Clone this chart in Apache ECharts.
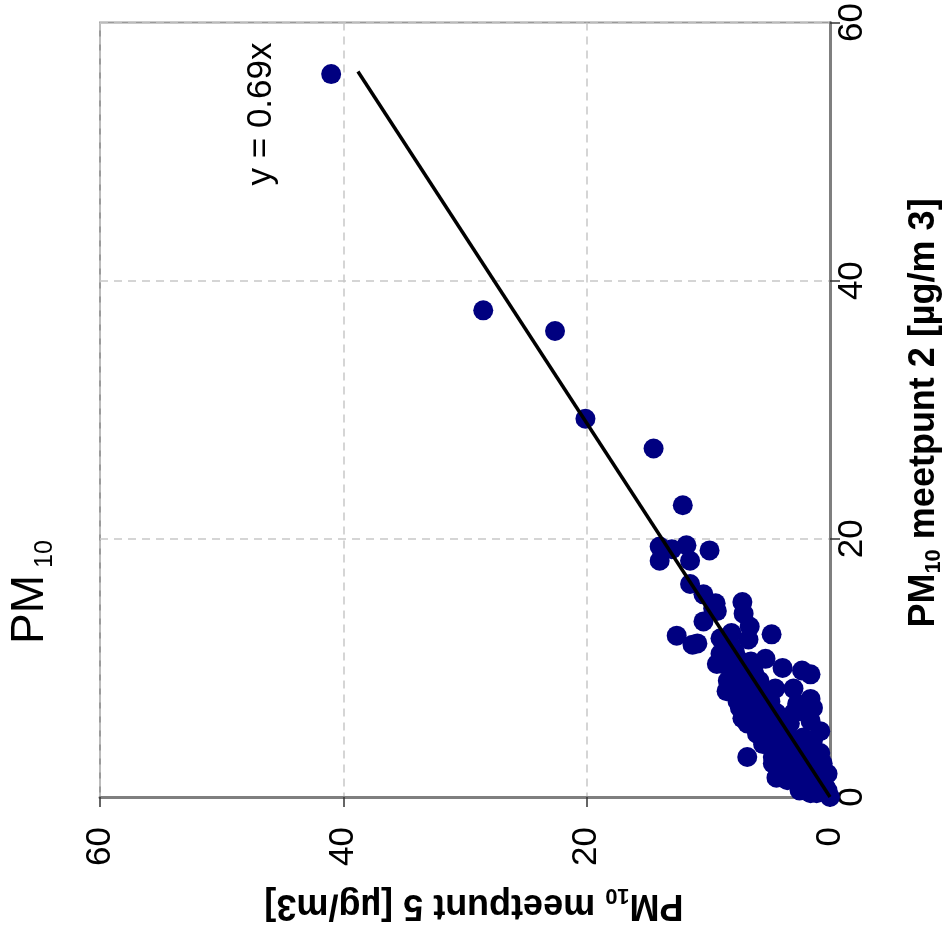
<!DOCTYPE html>
<html>
<head>
<meta charset="utf-8">
<script src="https://cdn.jsdelivr.net/npm/echarts@6/dist/echarts.min.js"></script>
<style>html,body{margin:0;padding:0;background:#fff;}#c{width:950px;height:935px;}</style>
</head>
<body>
<div id="c"></div>
<script>
// PM10 meetpunt 5 values (horizontal, inverted axis) and meetpunt 2 values (vertical, right axis)
const meetpunt5 = [41.0,28.5,22.6,20.1,14.5,12.1,14.0,14.0,13.0,11.8,11.5,9.9,11.5,10.4,9.4,9.3,7.2,7.1,6.6,12.6,11.3,10.4,9.6,4.8,6.7,8.1,9.0,10.9,8.8,8.4,5.3,3.9,2.3,1.6,3.0,1.6,4.5,6.3,7.0,4.9,8.5,9.0,9.3,7.6,7.4,6.8,6.0,5.5,4.7,4.1,3.3,2.5,6.8,7.1,6.8,5.8,4.9,4.4,3.5,2.5,1.6,0.8,1.6,1.4,2.7,3.9,3.0,4.1,2.5,1.6,0.8,0.0,0.6,5.2,4.4,3.3,2.5,3.3,4.7,3.5,4.3,3.0,1.9,1.4,6.3,7.2,4.7,3.0,2.5,1.4,0.2,1.1,1.9,0.2,0.6,0.8,5.0,5.5,6.0,6.2,5.8,4.0,6.8,7.5,7.8,8.2,6.5,5.6,2.0,2.8,3.6,4.2,5.0,5.3,6.0,6.5,7.0,7.2,7.5,1.0,1.8,2.2,3.8,4.6,5.5,6.2,7.8,8.0,8.5,3.0,1.2,0.4];
const meetpunt2 = [56.0,37.7,36.1,29.3,27.0,22.6,19.4,18.3,19.2,19.5,18.3,19.1,16.5,15.7,15.0,14.4,15.1,14.2,13.2,12.5,11.8,13.6,14.6,12.6,12.2,12.7,12.3,11.9,10.3,9.0,10.7,10.0,9.8,9.5,8.4,7.6,8.4,10.0,7.4,7.4,8.2,11.1,10.3,7.4,6.9,5.7,4.9,4.1,3.1,2.3,1.5,0.9,3.1,6.7,5.9,5.1,4.1,1.5,1.3,2.3,3.1,5.1,5.9,6.9,7.2,4.9,4.4,3.1,0.5,0.3,1.1,0.0,1.8,5.9,6.5,5.7,3.8,2.3,2.6,3.6,6.1,6.5,6.5,4.4,5.9,6.1,4.9,2.8,1.8,1.3,0.5,0.3,0.8,1.8,2.6,3.4,7.0,8.0,8.8,9.5,9.0,6.0,9.8,10.6,11.2,11.8,10.5,7.6,3.0,4.0,5.0,5.5,6.5,7.2,7.8,8.5,9.0,9.6,8.8,2.0,2.4,4.6,4.2,5.2,6.3,7.0,9.8,10.5,11.0,3.3,1.6,0.8];
// trend line y = 0.69x (meetpunt 5 = 0.69 * meetpunt 2)
const trendM2 = [0, 56.2];
const trendM5 = [0, 38.8];
const axisTicks = [0, 20, 40, 60];
const equationText = 'y = 0.69x';

const FF = '"Liberation Sans", Arial, sans-serif';
const points = meetpunt5.map((v, i) => [v, meetpunt2[i]]);
const trend = trendM5.map((v, i) => [v, trendM2[i]]);

const chart = echarts.init(document.getElementById('c'), null, {renderer: 'canvas'});
const axisCommon = {
  type: 'value', min: axisTicks[0], max: axisTicks[axisTicks.length - 1], interval: 20,
  axisLine: {show: true, onZero: false, lineStyle: {color: '#7f7f7f', width: 3}},
  axisTick: {show: true, length: 10, lineStyle: {color: '#333', width: 1.5}},
  splitLine: {show: true, lineStyle: {type: [8, 6], color: '#c8c8c8', width: 1.5}},
  axisLabel: {rotate: 90, fontSize: 35, color: '#000', fontFamily: FF, margin: 30}
};
chart.setOption({
  animation: false,
  backgroundColor: '#fff',
  grid: {left: 100, right: 120, top: 16, bottom: 138, show: true, borderColor: '#9a9a9a', borderWidth: 2, containLabel: false},
  xAxis: Object.assign({}, axisCommon, {position: 'bottom', inverse: true}),
  yAxis: Object.assign({}, axisCommon, {position: 'right', axisLabel: Object.assign({}, axisCommon.axisLabel, {margin: 5})}),
  series: [
    {type: 'scatter', data: points, symbol: 'circle', symbolSize: 20, itemStyle: {color: '#000080', opacity: 1}, z: 2},
    {type: 'line', data: trend, showSymbol: false, symbol: 'none', lineStyle: {color: '#000', width: 3.5}, z: 3}
  ],
  graphic: [
    {type: 'text', x: 261, y: 114, rotation: Math.PI / 2,
     style: {text: equationText, font: '35px ' + FF, fill: '#000', align: 'center', verticalAlign: 'middle', textAlign: 'center', textVerticalAlign: 'middle'}},
    {type: 'text', x: 30, y: 592, rotation: Math.PI / 2,
     style: {text: '{a|PM}{b| 10}', fill: '#000', align: 'center', verticalAlign: 'middle', textAlign: 'center', textVerticalAlign: 'middle',
       rich: {a: {font: '46px ' + FF, fill: '#000'}, b: {font: '25px ' + FF, fill: '#000', padding: [30, 0, 0, 0]}}}},
    {type: 'text', x: 924, y: 413, rotation: Math.PI / 2,
     style: {text: '{a|PM}{b|10}{a| meetpunt 2 [µg/m 3]}', fill: '#000', align: 'center', verticalAlign: 'middle', textAlign: 'center', textVerticalAlign: 'middle',
       rich: {a: {font: 'bold 36px ' + FF, fill: '#000'}, b: {font: 'bold 22px ' + FF, fill: '#000', padding: [20, 0, 0, 0]}}}},
    {type: 'text', x: 474, y: 905, rotation: Math.PI,
     style: {text: '{a|PM}{b|10}{a| meetpunt 5 [µg/m3]}', fill: '#000', align: 'center', verticalAlign: 'middle', textAlign: 'center', textVerticalAlign: 'middle',
       rich: {a: {font: 'bold 36px ' + FF, fill: '#000'}, b: {font: 'bold 22px ' + FF, fill: '#000', padding: [20, 0, 0, 0]}}}}
  ]
});
</script>
</body>
</html>
